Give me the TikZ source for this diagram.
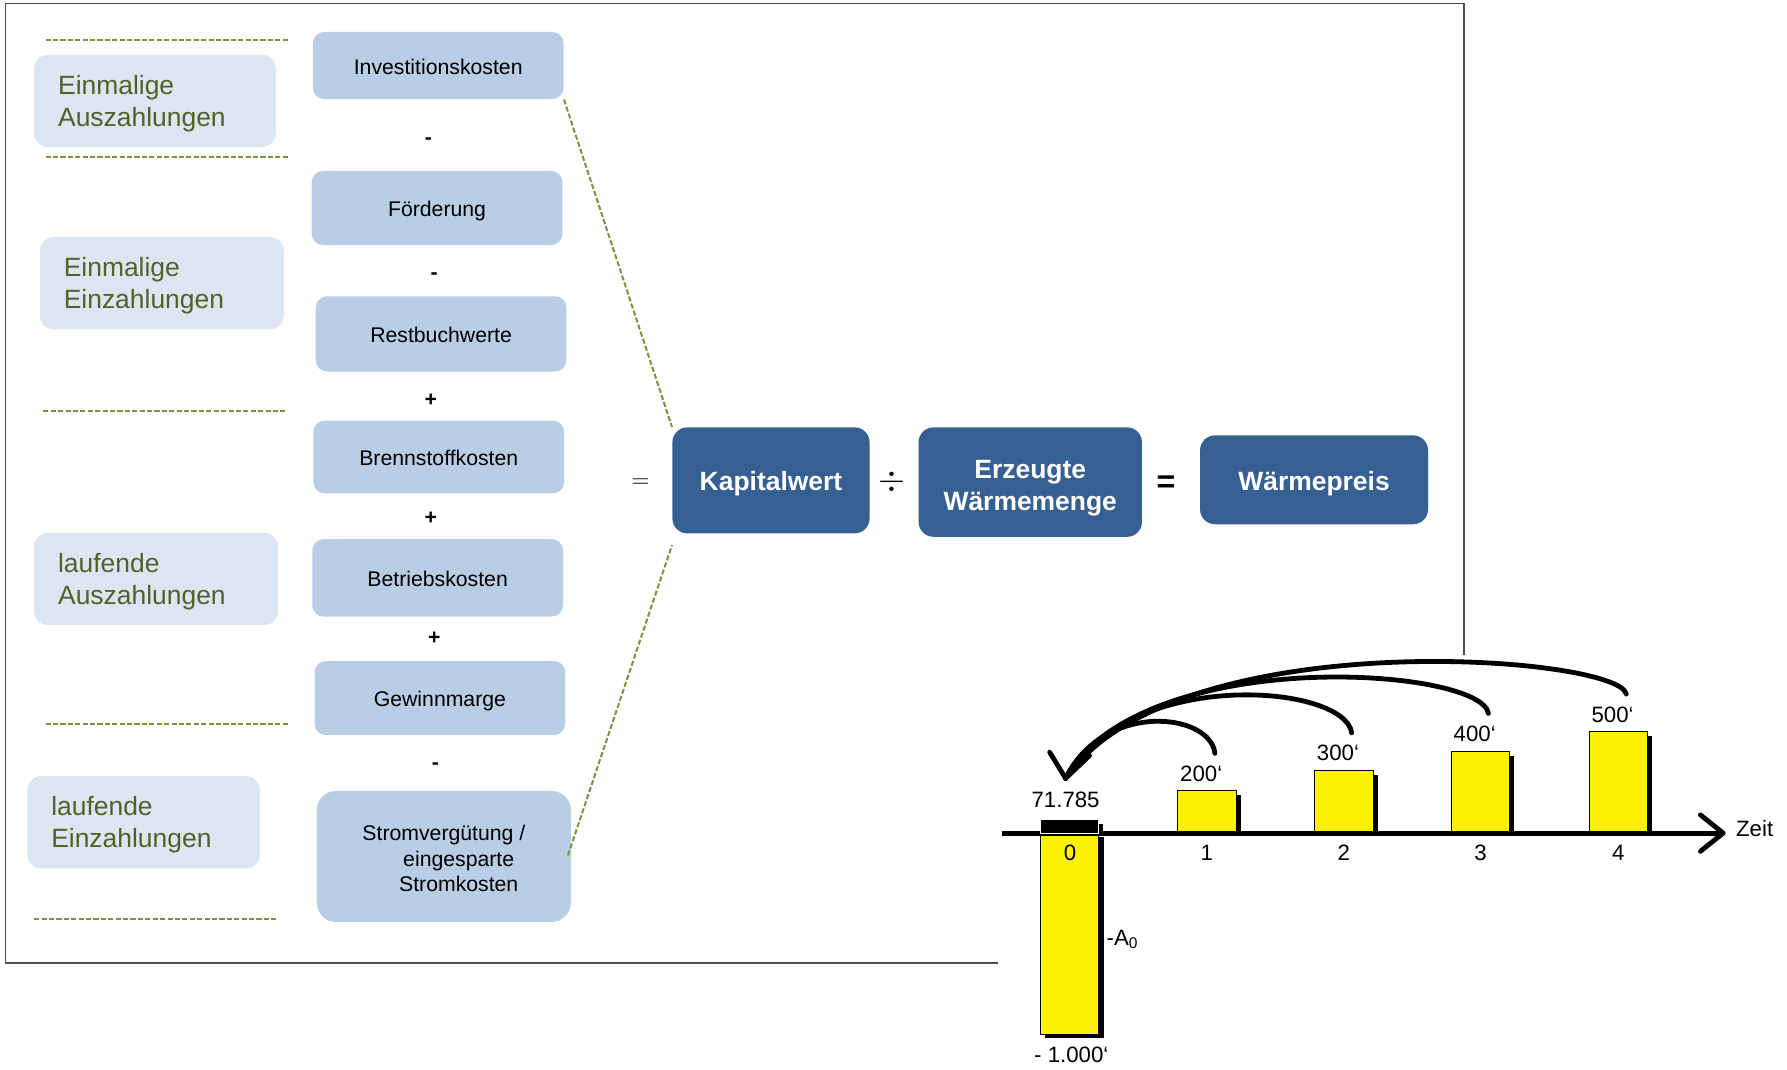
\documentclass[tikz,border=0pt]{standalone}
\usepackage{fontspec}
\setmainfont{Liberation Sans}
\usepackage{tikz}
\usetikzlibrary{arrows.meta, calc}

\definecolor{labelfill}{HTML}{DCE6F2}
\definecolor{labelgreen}{HTML}{4F6228}
\definecolor{dashgreen}{HTML}{77933C}
\definecolor{costfill}{HTML}{B9CDE5}
\definecolor{resultblue}{HTML}{376092}

\begin{document}
\begin{tikzpicture}[x=0.2mm, y=-0.2mm,
    boxstrut/.style={execute at begin node={\rule[-0.25em]{0pt}{#1}}},
    grouplabel/.style={rectangle, rounded corners=2.4mm, fill=labelfill, text=labelgreen,
                 text width=#1, inner xsep=4.2mm, align=left, minimum height=16.2mm,
                 font=\fontsize{13.2}{15.9}\selectfont, boxstrut=1.17em},
    grouplabel/.default=34mm,
    costbox/.style={rectangle, rounded corners=2mm, fill=costfill, minimum width=44mm,
                 align=center, font=\fontsize{10.6}{12.9}\selectfont, boxstrut=1.3em},
    resultbox/.style={rectangle, rounded corners=2.6mm, fill=resultblue, text=white,
                 align=center, font=\bfseries\fontsize{13.2}{15.9}\selectfont, boxstrut=1.3em},
    op/.style={font=\bfseries\fontsize{10.6}{12}\selectfont},
    sep/.style={dashgreen, line width=1pt, dash pattern=on 0.9mm off 0.4mm},
    bar/.style={draw=black, line width=0.5pt, fill=yellow},
    chartlabel/.style={font=\fontsize{11.1}{13}\selectfont, inner sep=0pt},
    heavy/.style={line width=2.4pt, line cap=round, line join=round}
]
\useasboundingbox (0,0) rectangle (1568,938);
% outer frame, partly hidden by the chart
\draw[black!70, line width=0.8pt] (1284.5,575) -- (1284.5,3) -- (5,3) -- (5,845) -- (876,845);
% separators of the left column
\draw[sep] (40,35) -- (254,35);
\draw[sep] (40,138) -- (254,138);
\draw[sep] (38,361) -- (252,361);
\draw[sep] (40,635) -- (254,635);
\draw[sep] (30,806) -- (244,806);
% group labels
\node[grouplabel] (A1) at (136,88.5) {Einmalige\\Auszahlungen};
\node[grouplabel=34.4mm] (A2) at (142,248.5) {Einmalige\\Einzahlungen};
\node[grouplabel=34.4mm] (A3) at (137,508) {laufende\\Auszahlungen};
\node[grouplabel=32.4mm] (A4) at (126,721.5) {laufende\\Einzahlungen};
% cost items
\node[costbox, minimum height=11.8mm] (B1) at (384.5,57.5) {Investitionskosten};
\node[costbox, minimum height=13mm] (B2) at (383.5,182.5) {Förderung};
\node[costbox, minimum height=13.2mm] (B3) at (387,293) {Restbuchwerte};
\node[costbox, minimum height=12.8mm] (B4) at (385,401) {Brennstoffkosten};
\node[costbox, minimum height=13.6mm] (B5) at (384,507) {Betriebskosten};
\node[costbox, minimum height=13mm] (B6) at (386,612.5) {Gewinnmarge};
\node[costbox, minimum height=23mm, minimum width=44.6mm, rounded corners=3.4mm] (B7) at (389.5,751.5)
    {\rule{0pt}{1.16em}Stromvergütung /\\\hspace*{5.2mm}eingesparte\\\hspace*{5.2mm}Stromkosten};
% operators between items
\node[op] (o1) at (376,124) {-};
\node[op] (o2) at (381,242) {-};
\node[op] (o3) at (378,351) {+};
\node[op] (o4) at (378,455) {+};
\node[op] (o5) at (381,560) {+};
\node[op] (o6) at (382,672) {-};
% result chain
\node[resultbox, minimum width=34.6mm, minimum height=18.6mm] (K) at (676.5,421.5) {Kapitalwert};
\node[resultbox, minimum width=39.2mm, minimum height=19.2mm] (E) at (904,423) {\rule{0pt}{1.2em}Erzeugte\\Wärmemenge};
\node[resultbox, minimum width=40mm, minimum height=15.6mm] (W) at (1153,421) {Wärmepreis};
\node[font=\fontsize{13}{13}\selectfont] (eq1) at (562,424) {$=$};
\node[font=\fontsize{18}{18}\selectfont] (dv) at (783,423) {$\div$};
\node[font=\bfseries\fontsize{16}{16}\selectfont] (eq2) at (1023,425) {=};
% dashed brace lines
\coordinate (kbot) at ($(K.south west)+(0,10)$);
\draw[sep] (B1.south east) -- (K.north west);
\draw[sep] ($(B7.east)+(-3,-1)$) -- (kbot);
% cash flow chart
\foreach \i/\ctr/\top/\val in {1/1059/694/200,2/1179/676/300,3/1299/659/400,4/1420/642/500} {
  \fill[black] (\ctr-21.75,\top+4) rectangle (\ctr+29.75,731);
  \draw[bar] (\ctr-25.75,\top) rectangle (\ctr+25.75,731);
  \node[chartlabel] (v\i) at (\ctr-5,\top-15) {\val‘};
  \node[chartlabel] (t\i) at (\ctr,748) {\i};
  \coordinate (c\i) at (\ctr+7,\top-33);
}
\fill[black] (917,734) rectangle (969,911);
\draw[bar] (913,731) rectangle (964,908);
\coordinate (axstart) at (879,731);
\coordinate (axend) at (1512,731);
\draw[heavy, line cap=butt] (axstart) -- (axend);
\draw[heavy] ($(axend)+(-20,-16)$) -- (axend) -- ($(axend)+(-20,16)$);
\fill[black] (917,723) rectangle (968,731);
\draw[white, fill=black, line width=0.5pt] (913,719) rectangle (964,731);
\node[chartlabel] (t0) at (939,748) {0};
\node[chartlabel] (v0) at (935,702) {71.785};
\node[chartlabel] (a0) at (985,824) {-A\textsubscript{0}};
\node[chartlabel] (neg) at (940,926) {- 1.000‘};
\node[chartlabel, anchor=west] (zeit) at (1523,727) {Zeit};
% discounting arrows
\coordinate (pvtip) at (935,683);
\draw[heavy] (c1) .. controls (1062,625) and (968,615) .. (pvtip);
\draw[heavy] (c2) .. controls (1180,600) and (990,585) .. (pvtip);
\draw[heavy] (c3) .. controls (1300,585) and (1000,565) .. (pvtip);
\draw[heavy] (c4) .. controls (1420,575) and (1030,545) .. (pvtip);
\draw[heavy] ($(pvtip)+(-14,-23)$) -- (pvtip) -- ($(pvtip)+(21,-20)$);
\end{tikzpicture}
\end{document}
